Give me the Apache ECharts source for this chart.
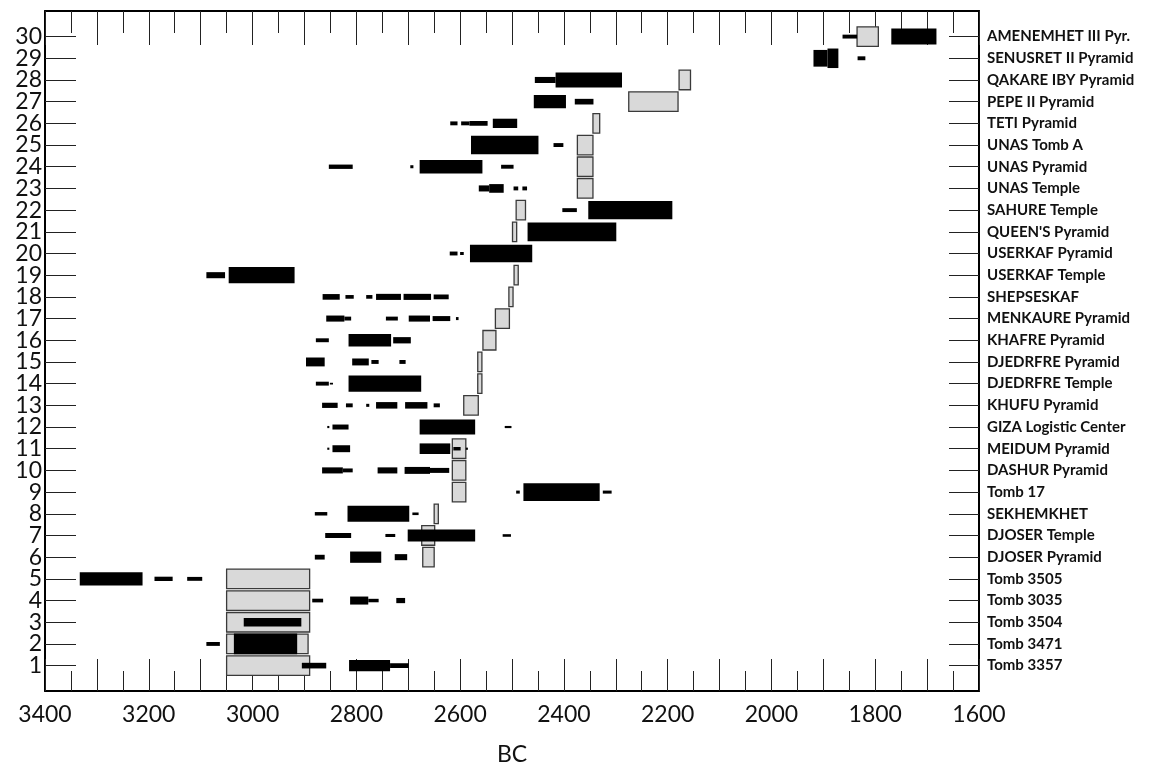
<!DOCTYPE html>
<html>
<head>
<meta charset="utf-8">
<script src="https://cdn.jsdelivr.net/npm/echarts@6/dist/echarts.min.js"></script>
<style>
  html, body { margin: 0; padding: 0; background: #fff; }
  #chart { width: 1170px; height: 768px; }
</style>
</head>
<body>
<div id="chart"></div>
<script>
// ---- data ----
const rowNumbers = [1,2,3,4,5,6,7,8,9,10,11,12,13,14,15,16,17,18,19,20,21,22,23,24,25,26,27,28,29,30];
const rowNames = [
  'Tomb 3357', 'Tomb 3471', 'Tomb 3504', 'Tomb 3035', 'Tomb 3505',
  'DJOSER Pyramid', 'DJOSER Temple', 'SEKHEMKHET', 'Tomb 17', 'DASHUR Pyramid',
  'MEIDUM Pyramid', 'GIZA Logistic Center', 'KHUFU Pyramid', 'DJEDRFRE Temple', 'DJEDRFRE Pyramid',
  'KHAFRE Pyramid', 'MENKAURE Pyramid', 'SHEPSESKAF', 'USERKAF Temple', 'USERKAF Pyramid',
  "QUEEN'S Pyramid", 'SAHURE Temple', 'UNAS Temple', 'UNAS Pyramid', 'UNAS Tomb A',
  'TETI Pyramid', 'PEPE II Pyramid', 'QAKARE IBY Pyramid', 'SENUSRET II Pyramid', 'AMENEMHET III Pyr.'
];
const xTicks = [1600, 1800, 2000, 2200, 2400, 2600, 2800, 3000, 3200, 3400];

// historical ranges: [row, fromBC, toBC]
const historicalRanges = [
  [1, 3050, 2890], [2, 3050, 2893], [3, 3050, 2890], [4, 3050, 2890], [5, 3050, 2890],
  [6, 2672, 2650], [7, 2674, 2649], [8, 2650, 2642], [9, 2615, 2589], [10, 2615, 2589],
  [11, 2615, 2589], [13, 2593, 2565], [14, 2566, 2558], [15, 2566, 2558], [16, 2556, 2531],
  [17, 2532, 2505], [18, 2506, 2498], [19, 2496, 2488], [21, 2499, 2491], [22, 2492, 2474],
  [23, 2374, 2344], [24, 2374, 2344], [25, 2374, 2344], [26, 2344, 2331], [27, 2275, 2180],
  [28, 2178, 2156], [30, 1835, 1794]
];

// radiocarbon ranges: [row, fromBC, toBC, probability weight]
const radiocarbonRanges = [
  [1, 2905, 2858, 0.26], [1, 2814, 2735, 0.52], [1, 2735, 2699, 0.22],
  [2, 3089, 3063, 0.18], [2, 3036, 2914, 0.96],
  [3, 3017, 2906, 0.40],
  [4, 2885, 2864, 0.17], [4, 2812, 2777, 0.37], [4, 2777, 2757, 0.16], [4, 2723, 2706, 0.24],
  [5, 3333, 3212, 0.61], [5, 3189, 3154, 0.20], [5, 3126, 3097, 0.18],
  [6, 2880, 2861, 0.22], [6, 2812, 2752, 0.52], [6, 2726, 2702, 0.28],
  [7, 2860, 2810, 0.23], [7, 2744, 2725, 0.14], [7, 2701, 2571, 0.55], [7, 2518, 2502, 0.12],
  [8, 2880, 2856, 0.16], [8, 2817, 2698, 0.74], [8, 2692, 2680, 0.12],
  [9, 2492, 2485, 0.14], [9, 2478, 2331, 0.82], [9, 2325, 2308, 0.14],
  [10, 2866, 2826, 0.28], [10, 2826, 2807, 0.18], [10, 2759, 2721, 0.28], [10, 2707, 2658, 0.32], [10, 2658, 2621, 0.23],
  [11, 2856, 2852, 0.10], [11, 2846, 2812, 0.32], [11, 2678, 2619, 0.49], [11, 2613, 2599, 0.16], [11, 2589, 2585, 0.10],
  [12, 2856, 2852, 0.10], [12, 2846, 2815, 0.23], [12, 2678, 2571, 0.69], [12, 2514, 2501, 0.10],
  [13, 2866, 2836, 0.24], [13, 2820, 2807, 0.18], [13, 2781, 2775, 0.14], [13, 2762, 2721, 0.30], [13, 2706, 2663, 0.30], [13, 2651, 2639, 0.18],
  [14, 2878, 2853, 0.18], [14, 2851, 2845, 0.08], [14, 2815, 2675, 0.74],
  [15, 2897, 2861, 0.41], [15, 2808, 2776, 0.32], [15, 2771, 2757, 0.18], [15, 2717, 2705, 0.18],
  [16, 2878, 2853, 0.18], [16, 2815, 2733, 0.58], [16, 2729, 2695, 0.29],
  [17, 2858, 2823, 0.28], [17, 2823, 2810, 0.18], [17, 2743, 2720, 0.18], [17, 2699, 2658, 0.28], [17, 2653, 2619, 0.23], [17, 2608, 2603, 0.14],
  [18, 2865, 2832, 0.26], [18, 2821, 2805, 0.17], [18, 2781, 2769, 0.17], [18, 2762, 2714, 0.28], [18, 2709, 2656, 0.28], [18, 2651, 2622, 0.22],
  [19, 3089, 3053, 0.28], [19, 3046, 2919, 0.75],
  [20, 2620, 2605, 0.18], [20, 2600, 2593, 0.14], [20, 2581, 2461, 0.80],
  [21, 2470, 2299, 0.86],
  [22, 2403, 2375, 0.18], [22, 2353, 2191, 0.84],
  [23, 2564, 2544, 0.28], [23, 2544, 2516, 0.40], [23, 2497, 2488, 0.18], [23, 2480, 2471, 0.18],
  [24, 2853, 2807, 0.20], [24, 2696, 2690, 0.14], [24, 2678, 2557, 0.63], [24, 2521, 2497, 0.18],
  [25, 2579, 2449, 0.86], [25, 2420, 2401, 0.18],
  [26, 2619, 2605, 0.18], [26, 2598, 2582, 0.18], [26, 2582, 2547, 0.22], [26, 2537, 2490, 0.43],
  [27, 2458, 2396, 0.61], [27, 2379, 2343, 0.26],
  [28, 2456, 2416, 0.28], [28, 2416, 2288, 0.69],
  [29, 1919, 1892, 0.77], [29, 1892, 1871, 0.90], [29, 1834, 1819, 0.18],
  [30, 1863, 1835, 0.18], [30, 1769, 1682, 0.74]
];

// ---- chart ----
const FONT = 'Lato, "Open Sans", sans-serif';
const BOX_HEIGHT = 0.9; // in row units
// label positions padded with empty end slots so no real label gets auto-hidden
const leftLabelValues = [0].concat(rowNumbers, [31]);

function rectFor(api, row, from, to, h) {
  const a = api.coord([from, row]);
  const b = api.coord([to, row]);
  const hp = api.size([0, h])[1];
  return {
    x: Math.min(a[0], b[0]),
    y: a[1] - hp / 2,
    width: Math.abs(b[0] - a[0]),
    height: hp
  };
}

const chart = echarts.init(document.getElementById('chart'), null, { renderer: 'canvas' });

const xCommon = {
  type: 'value',
  min: 1600,
  max: 3400,
  interval: 100,
  inverse: true,
  splitLine: { show: false },
  axisLine: { show: true, onZero: false, lineStyle: { color: '#000', width: 2 } },
  axisTick: { show: true, inside: true, length: 32, lineStyle: { color: '#222', width: 1 } },
  minorTick: { show: true, splitNumber: 2, length: 20, lineStyle: { color: '#222', width: 1 } }
};

const yCommon = {
  type: 'value',
  min: -0.17,
  max: 31.18,
  splitLine: { show: false },
  axisLine: { show: true, onZero: false, lineStyle: { color: '#000', width: 2 } }
};

chart.setOption({
  animation: false,
  backgroundColor: '#fff',
  grid: { left: 45, right: 191, top: 11, bottom: 77, containLabel: false, outerBoundsMode: 'none' },
  xAxis: [
    Object.assign({}, xCommon, {
      position: 'bottom',
      name: 'BC',
      nameLocation: 'middle',
      nameGap: 52,
      nameTextStyle: { fontFamily: FONT, fontSize: 23, color: '#111' },
      axisLabel: {
        show: true,
        margin: 12,
        showMinLabel: true, showMaxLabel: true,
        fontFamily: FONT, fontSize: 23, color: '#111',
        customValues: xTicks,
        formatter: v => String(v)
      }
    }),
    Object.assign({}, xCommon, {
      position: 'top',
      axisTick: { show: true, inside: true, length: 34, lineStyle: { color: '#222', width: 1 } },
      minorTick: { show: true, splitNumber: 2, length: 22, lineStyle: { color: '#222', width: 1 } },
      axisLabel: { show: false }
    })
  ],
  yAxis: [
    Object.assign({}, yCommon, {
      position: 'left',
      axisTick: { show: true, inside: true, length: 31, customValues: rowNumbers, lineStyle: { color: '#222', width: 1 } },
      axisLabel: {
        show: true, margin: 3,
        fontFamily: FONT, fontSize: 23, lineHeight: 14, color: '#111',
        customValues: leftLabelValues,
        formatter: v => (v >= 1 && v <= 30) ? String(v) : ''
      }
    }),
    Object.assign({}, yCommon, {
      position: 'right',
      axisTick: { show: true, inside: true, length: 30, customValues: rowNumbers, lineStyle: { color: '#222', width: 1 } },
      axisLabel: {
        show: true, margin: 8,
        fontFamily: FONT, fontSize: 15, fontWeight: 'bold', color: '#111',
        customValues: leftLabelValues,
        formatter: v => rowNames[Math.round(v) - 1] || ''
      }
    })
  ],
  series: [
    {
      type: 'custom',
      name: 'Historical',
      xAxisIndex: 0,
      yAxisIndex: 0,
      z: 2,
      data: historicalRanges.map(d => [d[1], d[2], d[0]]),
      encode: { x: [0, 1], y: 2 },
      renderItem: function (params, api) {
        const r = rectFor(api, api.value(2), api.value(0), api.value(1), BOX_HEIGHT);
        return {
          type: 'rect',
          shape: r,
          style: { fill: '#d9d9d9', stroke: '#3a3a3a', lineWidth: 1.3 }
        };
      }
    },
    {
      type: 'custom',
      name: 'Radiocarbon',
      xAxisIndex: 0,
      yAxisIndex: 0,
      z: 3,
      data: radiocarbonRanges.map(d => [d[1], d[2], d[0], d[3]]),
      encode: { x: [0, 1], y: 2 },
      renderItem: function (params, api) {
        const r = rectFor(api, api.value(2), api.value(0), api.value(1), api.value(3));
        return {
          type: 'rect',
          shape: r,
          style: { fill: '#000', stroke: null }
        };
      }
    }
  ]
});
</script>
</body>
</html>
